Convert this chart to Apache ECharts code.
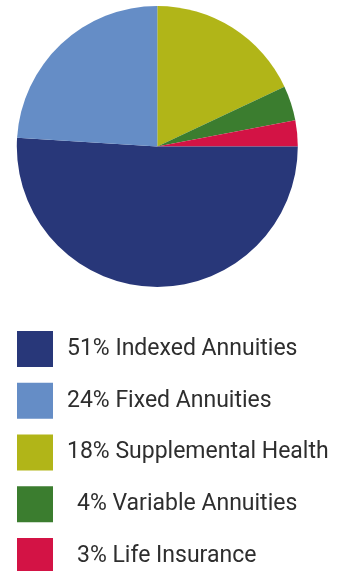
<!DOCTYPE html>
<html>
<head>
<meta charset="utf-8">
<script src="https://cdn.jsdelivr.net/npm/echarts@6/dist/echarts.min.js"></script>
<style>
  html, body { margin: 0; padding: 0; background: #ffffff; }
  #chart { width: 338px; height: 571px; }
</style>
</head>
<body>
<div id="chart"></div>
<script>
// Business mix by product line, drawn clockwise from 12 o'clock
const categories = ['Supplemental Health', 'Variable Annuities', 'Life Insurance', 'Indexed Annuities', 'Fixed Annuities'];
const shares = [18, 4, 3, 51, 24];
const sliceColors = ['#b1b518', '#3b7d2f', '#d31345', '#283779', '#658dc6'];
// Order of the key below the pie
const legendOrder = ['Indexed Annuities', 'Fixed Annuities', 'Supplemental Health', 'Variable Annuities', 'Life Insurance'];

const chart = echarts.init(document.getElementById('chart'), null, { renderer: 'canvas' });

const pieData = categories.map((name, i) => ({
  name: name,
  value: shares[i],
  itemStyle: { color: sliceColors[i] }
}));

chart.setOption({
  animation: false,
  backgroundColor: '#ffffff',
  legend: {
    data: legendOrder,
    orient: 'vertical',
    left: 17,
    top: 331,
    height: 260,
    padding: 0,
    itemWidth: 36,
    itemHeight: 36,
    itemGap: 15.75,
    icon: 'rect',
    selectedMode: false,
    formatter: function (name) {
      const v = shares[categories.indexOf(name)];
      // single-digit shares are indented so the % signs line up
      return (v < 10 ? '{s|' : '{d|') + v + '% ' + name + '}';
    },
    textStyle: {
      fontFamily: 'Roboto',
      fontSize: 23,
      color: '#2e2e2e',
      rich: {
        d: { fontFamily: 'Roboto', fontSize: 23, color: '#2e2e2e', padding: [0, 0, 0, 9] },
        s: { fontFamily: 'Roboto', fontSize: 23, color: '#2e2e2e', padding: [0, 0, 0, 19] }
      }
    }
  },
  series: [{
    type: 'pie',
    center: [157.3, 146.5],
    radius: 140.5,
    startAngle: 90,
    clockwise: true,
    silent: true,
    label: { show: false },
    labelLine: { show: false },
    itemStyle: { borderWidth: 0 },
    data: pieData
  }]
});
</script>
</body>
</html>
